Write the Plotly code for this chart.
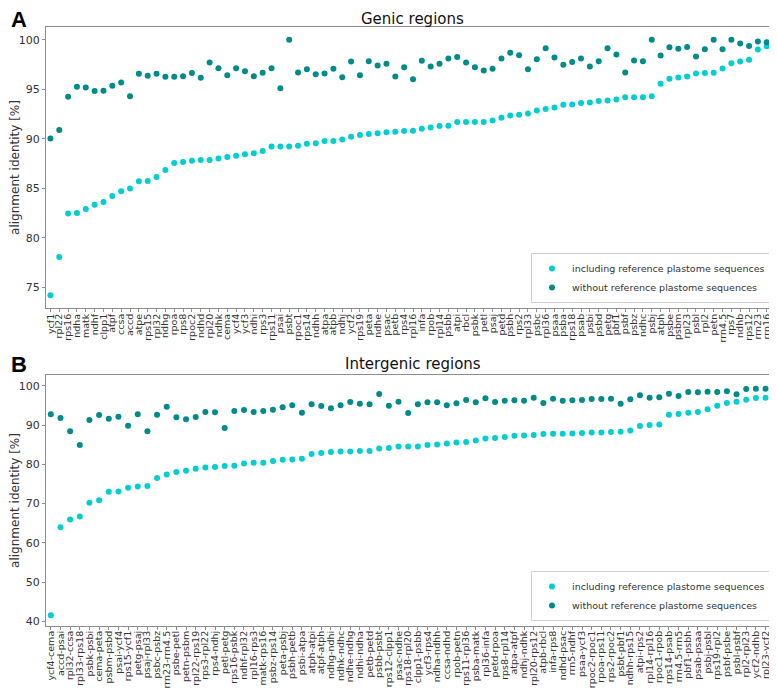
import plotly.graph_objects as go

genic_labels = ["ycf1","rpl22","rps16","ndha","matk","ndhf","clpp1","atpf","ccsa","accd","atpe","rps15","rpl32","ndhg","rpoa","rps8","rpoc2","ndhd","rpl20","ndhk","cema","ycf4","ycf3","ndhi","rps3","rps11","psai","psbt","rpoc1","rps14","ndhh","atpa","atpb","ndhj","ycf2","rps19","peta","ndhe","psac","petb","rps4","rpl16","infa","rpob","rpl14","psbb","atpi","rbcl","psbk","petl","psaj","petd","psbh","rps2","rpl33","psbc","rpl36","psaa","psba","rps18","psab","psbi","psbd","petg","pbf1","psbf","psbz","ndhc","psbj","atph","psbe","psbm","rpl23","psbl","rpl2","petn","rrn4.5","rps7","ndhb","rps12","rrn23","rrn16","rrn5"]

genic_including = [74.2,78.06,82.44,82.5,82.91,83.34,83.61,84.22,84.69,84.99,85.7,85.73,86.14,86.84,87.55,87.65,87.79,87.85,87.85,88.02,88.16,88.29,88.43,88.53,88.76,89.23,89.23,89.23,89.3,89.5,89.54,89.77,89.77,89.94,90.21,90.38,90.48,90.55,90.65,90.71,90.78,90.81,91.02,91.15,91.29,91.32,91.69,91.69,91.69,91.69,91.86,92.13,92.36,92.43,92.56,92.87,93.0,93.17,93.44,93.47,93.61,93.67,93.81,93.88,93.98,94.21,94.21,94.21,94.31,95.56,96.06,96.2,96.3,96.6,96.64,96.67,97.11,97.64,97.81,97.98,99.02,99.36,100.0]

genic_without = [90.04,90.88,94.25,95.26,95.19,94.82,94.85,95.36,95.69,94.31,96.57,96.37,96.57,96.27,96.27,96.33,96.64,96.16,97.71,97.14,96.43,97.14,96.84,96.33,96.67,97.14,95.12,100.0,96.7,97.04,96.53,96.6,97.07,96.23,97.81,96.43,97.85,97.41,97.58,96.3,97.24,96.03,97.88,97.31,97.58,98.12,98.28,97.71,97.24,96.9,97.07,98.12,98.69,98.45,97.04,98.05,99.16,98.22,97.48,97.75,98.12,97.31,97.85,99.16,98.52,96.7,97.91,97.85,100.0,98.42,99.26,99.09,99.29,98.32,99.06,100.0,99.06,100.0,99.63,99.39,99.83,99.76,100.0]

inter_labels = ["ycf4-cema","accd-psai","rpl32-ccsa","rpl33-rps18","psbk-psbi","cema-peta","psbm-psbd","psai-ycf4","rps15-ycf1","petg-psaj","psaj-rpl33","psbc-psbz","rrn23-rrn4.5","psbe-petl","petn-psbm","rpl22-rps19","rps3-rpl22","rps4-ndhj","petl-petg","rps16-psbk","ndhf-rpl32","rpl16-rps3","matk-rps16","psbz-rps14","peta-psbj","psbh-petb","psbi-atpa","atph-atpi","atpf-atph","ndhg-ndhi","ndhk-ndhc","ndhe-ndhg","ndhi-ndha","petb-petd","psbb-psbt","rps12-clpp1","psac-ndhe","rps18-rpl20","clpp1-psbb","ycf3-rps4","ndha-ndhh","ccsa-ndhd","rpob-petn","rps11-rpl36","psba-matk","rpl36-infa","petd-rpoa","rps8-rpl14","atpa-atpf","ndhj-ndhk","rpl20-rps12","atpb-rbcl","infa-rps8","ndhd-psac","rrn5-ndhf","psaa-ycf3","rpoc2-rpoc1","rpoa-rps11","rps2-rpoc2","psbt-pbf1","ndhh-rps15","atpi-rps2","rpl14-rpl16","rpoc1-rpob","rps14-psab","rrn4.5-rrn5","pbf1-psbh","psab-psaa","psbj-psbl","rps19-rpl2","psbf-psbe","psbl-psbf","rpl2-rpl23","ycf2-ndhb","rpl23-ycf2","ndhb-rps7"]

inter_including = [41.53,64.0,65.96,66.72,70.21,70.89,73.02,73.11,74.04,74.38,74.47,76.51,77.45,78.04,78.38,78.89,79.23,79.32,79.57,79.66,80.26,80.43,80.43,80.85,81.19,81.28,81.45,82.64,82.89,83.15,83.32,83.32,83.4,83.4,84.09,84.17,84.55,84.6,84.6,84.94,85.11,85.36,85.62,85.7,86.13,86.64,86.72,86.98,87.32,87.4,87.49,87.74,87.83,87.83,87.91,88.0,88.17,88.17,88.26,88.34,88.68,89.79,90.04,90.21,92.68,92.85,93.19,93.36,94.04,94.98,95.66,96.0,96.51,96.94,97.02,97.36]

inter_without = [92.77,91.83,88.43,84.94,91.32,92.6,91.66,92.17,89.87,92.77,88.43,92.68,94.72,92.0,91.49,92.09,93.36,93.28,89.28,93.62,93.87,93.36,93.62,93.96,94.55,95.06,93.19,95.32,94.89,94.3,95.06,95.91,95.49,95.32,97.96,94.98,96.0,93.11,95.32,95.83,95.83,95.06,95.57,96.43,95.83,96.85,95.91,96.26,96.34,96.26,97.02,95.66,96.77,96.26,96.34,96.43,96.68,96.68,96.77,95.49,96.6,97.62,97.02,97.11,98.04,97.45,98.47,98.38,98.55,98.47,98.64,97.87,99.23,99.32,99.32,99.49]

series_names = ["including reference plastome sequences", "without reference plastome sequences"]
series_colors = ["#00CED1", "#008B8B"]
panel_titles = ["Genic regions", "Intergenic regions"]
panel_letters = ["A", "B"]

W, H = 777, 688
FONT = "DejaVu Sans"
TXT = "#333333"

def px(y):
    return (H - y) / H

fig = go.Figure()

# Panel A
for name, vals, col in zip(series_names, [genic_including, genic_without], series_colors):
    fig.add_trace(go.Scatter(x=genic_labels, y=vals, mode="markers", name=name,
                             marker=dict(color=col, size=6, line=dict(width=0)),
                             xaxis="x", yaxis="y", legend="legend"))
# Panel B
for name, vals, col in zip(series_names, [inter_including, inter_without], series_colors):
    fig.add_trace(go.Scatter(x=inter_labels, y=vals, mode="markers", name=name,
                             marker=dict(color=col, size=6, line=dict(width=0)),
                             xaxis="x2", yaxis="y2", legend="legend2"))

xdom = [38 / W, 772 / W]
axis_common = dict(showline=True, mirror=True, linecolor="#8c8c8c", linewidth=1,
                   showgrid=False, zeroline=False, ticks="outside", ticklen=3,
                   tickcolor="#8c8c8c", automargin=False)

fig.update_layout(
    width=W, height=H,
    margin=dict(l=0, r=0, t=0, b=0),
    paper_bgcolor="white", plot_bgcolor="white",
    font=dict(family=FONT, color=TXT, size=11),
    xaxis=dict(domain=xdom, anchor="y", type="category", range=[-0.5, len(genic_labels) - 0.5],
               tickmode="array", tickvals=genic_labels, ticktext=genic_labels,
               tickangle=-90, tickfont=dict(size=9.5, color=TXT), ticklabelstandoff=-2,
               ticklabeloverflow="allow", **axis_common),
    yaxis=dict(domain=[px(300), px(19)], anchor="x", range=[72.9, 101.3],
               tickvals=[75, 80, 85, 90, 95, 100], tickfont=dict(size=11, color=TXT),
               title=dict(text="alignment identity [%]", font=dict(size=12, color=TXT), standoff=9),
               **axis_common),
    xaxis2=dict(domain=xdom, anchor="y2", type="category", range=[-0.5, len(inter_labels) - 0.5],
                tickmode="array", tickvals=inter_labels, ticktext=inter_labels,
                tickangle=-90, tickfont=dict(size=9.5, color=TXT), ticklabelstandoff=-3,
                ticklabeloverflow="allow", **axis_common),
    yaxis2=dict(domain=[px(618), px(367)], anchor="x2", range=[38.8, 102.8],
                tickvals=[40, 50, 60, 70, 80, 90, 100], tickfont=dict(size=11, color=TXT),
                title=dict(text="alignment identity [%]", font=dict(size=12, color=TXT), standoff=9),
                **axis_common),
    legend=dict(x=763 / W, y=px(295), xanchor="right", yanchor="bottom",
                bgcolor="white", bordercolor="#d0d0d0", borderwidth=1,
                font=dict(size=9.5, color=TXT), itemwidth=30, tracegroupgap=0),
    legend2=dict(x=763 / W, y=px(613), xanchor="right", yanchor="bottom",
                 bgcolor="white", bordercolor="#d0d0d0", borderwidth=1,
                 font=dict(size=9.5, color=TXT), itemwidth=30, tracegroupgap=0),
    showlegend=True,
)

annotations = []
for title, ycen in zip(panel_titles, [11, 356]):
    annotations.append(dict(text=title, x=(38 + 772) / 2 / W, y=px(ycen), xref="paper", yref="paper",
                            xanchor="center", yanchor="middle", showarrow=False,
                            font=dict(size=15, color="#111111", family=FONT)))
for letter, ycen in zip(panel_letters, [11, 356]):
    annotations.append(dict(text="<b>" + letter + "</b>", x=1 / W, y=px(ycen), xref="paper", yref="paper",
                            xanchor="left", yanchor="middle", showarrow=False,
                            font=dict(size=22, color="#000000", family="Liberation Sans")))
fig.update_layout(annotations=annotations)

fig.write_html("out.html")
